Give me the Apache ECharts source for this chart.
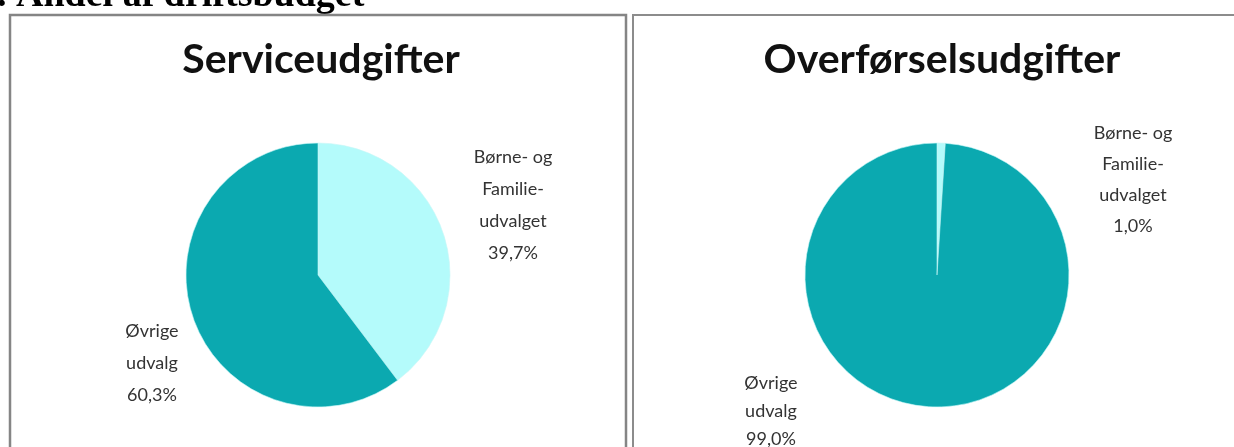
<!DOCTYPE html>
<html>
<head>
<meta charset="utf-8">
<script src="https://cdn.jsdelivr.net/npm/echarts@6/dist/echarts.min.js"></script>
<style>
  html, body { margin: 0; padding: 0; background: #ffffff; }
  #main { width: 1234px; height: 447px; }
</style>
</head>
<body>
<div id="main"></div>
<script>
    // data
    var categories = ['Børne- og\nFamilie-\nudvalget', 'Øvrige\nudvalg'];
    var serviceValues = [39.7, 60.3];
    var overfoerselValues = [1.0, 99.0];
    var chartTitles = ['Serviceudgifter', 'Overførselsudgifter'];
    var heading = '2. Andel af driftsbudget';

    var colors = ['#b4fbfb', '#0ba9b0'];

    // where Excel put the labels (center of text block + line height), per series / slice
    var labelSpots = [
        [[513, 205, 32], [152, 363, 32]],
        [[1133, 180, 31], [771, 411, 28]]
    ];

    var chartDom = document.getElementById('main');
    var myChart = echarts.init(chartDom);

    function makeData(values, si) {
        return values.map(function (v, i) {
            return {
                name: categories[i], value: v,
                itemStyle: { color: colors[i] },
                label: { lineHeight: labelSpots[si][i][2] }
            };
        });
    }

    function fmt(p) {
        return p.name + '\n' + p.value.toFixed(1).replace('.', ',') + '%';
    }

    function makeSeries(values, si, cx) {
        return {
            type: 'pie',
            center: [cx, 275],
            radius: 132,
            startAngle: 90,
            clockwise: true,
            silent: true,
            animation: false,
            data: makeData(values, si),
            itemStyle: { borderColor: '#c6f6f6', borderWidth: 0.6 },
            label: {
                show: true,
                formatter: fmt,
                fontFamily: 'Lato',
                fontSize: 18,
                color: '#333333',
                align: 'center'
            },
            labelLine: { show: false },
            labelLayout: function (params) {
                var spot = labelSpots[params.seriesIndex][params.dataIndex];
                return { x: spot[0], y: spot[1], align: 'center', verticalAlign: 'middle' };
            }
        };
    }

    var option = {
        backgroundColor: '#ffffff',
        title: [
            {
                text: chartTitles[0],
                left: 316, top: 34,
                textAlign: 'center',
                textStyle: { fontFamily: 'Lato', fontWeight: 'bold', fontSize: 41, color: '#111111' }
            },
            {
                text: chartTitles[1],
                left: 937, top: 34,
                textAlign: 'center',
                textStyle: { fontFamily: 'Lato', fontWeight: 'bold', fontSize: 41, color: '#111111' }
            }
        ],
        graphic: [
            {
                type: 'text', left: -22, top: -23,
                style: { text: heading, fontFamily: 'Liberation Serif', fontWeight: 'bold', fontSize: 38, fill: '#000000' }
            },
            {
                type: 'rect', shape: { x: 10, y: 15, width: 616, height: 450 },
                style: { fill: '#ffffff', stroke: '#858585', lineWidth: 2.5 }
            },
            {
                type: 'rect', shape: { x: 633, y: 15, width: 700, height: 450 },
                style: { fill: '#ffffff', stroke: '#8c8c8c', lineWidth: 2 }
            }
        ],
        series: [
            makeSeries(serviceValues, 0, 318),
            makeSeries(overfoerselValues, 1, 937)
        ]
    };

    myChart.setOption(option);
</script>
</body>
</html>
